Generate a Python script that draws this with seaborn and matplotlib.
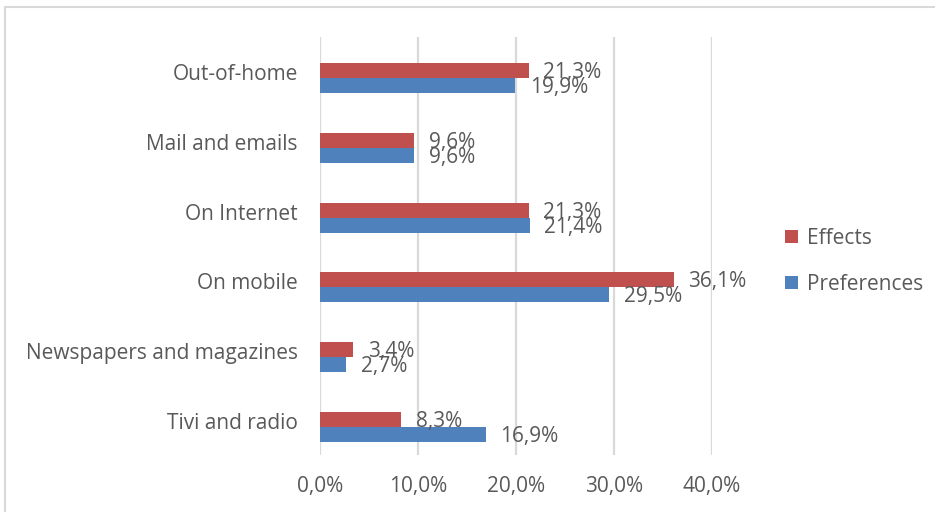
import matplotlib
matplotlib.use("Agg")
import matplotlib.pyplot as plt
import matplotlib.transforms as mtransforms
from matplotlib.patches import Patch, Rectangle
from matplotlib.ticker import FixedLocator, FuncFormatter
import pandas as pd
import seaborn as sns

# Advertising channels, shares in percent
channels = ["Out-of-home", "Mail and emails", "On Internet", "On mobile",
            "Newspapers and magazines", "Tivi and radio"]
effects = [21.3, 9.6, 21.3, 36.1, 3.4, 8.3]
preferences = [19.9, 9.6, 21.4, 29.5, 2.7, 16.9]
series = ["Effects", "Preferences"]
x_ticks = [0, 10, 20, 30, 40]

colors = {"Effects": "#C0504D", "Preferences": "#4F81BD"}
text_color = "#595959"
grid_color = "#D9D9D9"
FS = 15

df = pd.DataFrame({
    "channel": channels * 2,
    "share": effects + preferences,
    "measure": ["Effects"] * len(channels) + ["Preferences"] * len(channels),
})

sns.set_theme(style="white")
plt.rcParams["font.family"] = ["Open Sans", "DejaVu Sans"]

fig = plt.figure(figsize=(9.35, 5.12), dpi=100)
ax = fig.add_axes([320 / 935, 1 - 455 / 512, (712 - 320) / 935, (455 - 37) / 512])

sns.barplot(data=df, y="channel", x="share", hue="measure", hue_order=series,
            order=channels, palette=colors, orient="h", width=0.43, gap=0,
            saturation=1, dodge=True, legend=False, ax=ax, errorbar=None,
            linewidth=0)

fmt = lambda v: f"{v:.1f}%".replace(".", ",")

for container, vals in zip(ax.containers, [effects, preferences]):
    anns = ax.bar_label(container, labels=[fmt(v) for v in vals], padding=10.5,
                        fontsize=FS, color=text_color)
    for a in anns:
        a.xyann = (10.5, -1.5)

# bars sit a little below the middle of each category band
band_shift = 0.093
ax.set_ylim(len(channels) - 0.5 - band_shift, -0.5 - band_shift)
ax.set_xlim(0, 40)
ax.xaxis.set_major_locator(FixedLocator(x_ticks))
ax.xaxis.set_major_formatter(FuncFormatter(lambda v, p: fmt(v)))
ax.grid(axis="x", color=grid_color, linewidth=1.6)
ax.grid(axis="y", visible=False)
ax.set_axisbelow(True)
for s in ax.spines.values():
    s.set_visible(False)

ax.set_xlabel("")
ax.set_ylabel("")
ax.tick_params(axis="x", length=0, pad=15, labelsize=FS, labelcolor=text_color)
ax.tick_params(axis="y", length=0, pad=16, labelsize=FS, labelcolor=text_color)

# category labels sit slightly above the bar pair
shift = mtransforms.ScaledTranslation(0, 6 / 100, fig.dpi_scale_trans)
for lbl in ax.get_yticklabels():
    lbl.set_transform(lbl.get_transform() + shift)

handles = [Patch(facecolor=colors[s], edgecolor="none") for s in series]
fig.legend(handles, series, loc="center left",
           bbox_to_anchor=(785 / 935, 1 - 261.5 / 512), frameon=False,
           fontsize=FS, labelcolor=text_color, handlelength=0.6,
           handleheight=0.6, handletextpad=0.45, labelspacing=1.2,
           borderpad=0, borderaxespad=0)

# chart border
fig.add_artist(Rectangle((5 / 935, -0.2), 1.2, 1.2 - 7 / 512,
                         transform=fig.transFigure, fill=False,
                         edgecolor=grid_color, linewidth=1.5))

fig.savefig("out.png", dpi=100)
